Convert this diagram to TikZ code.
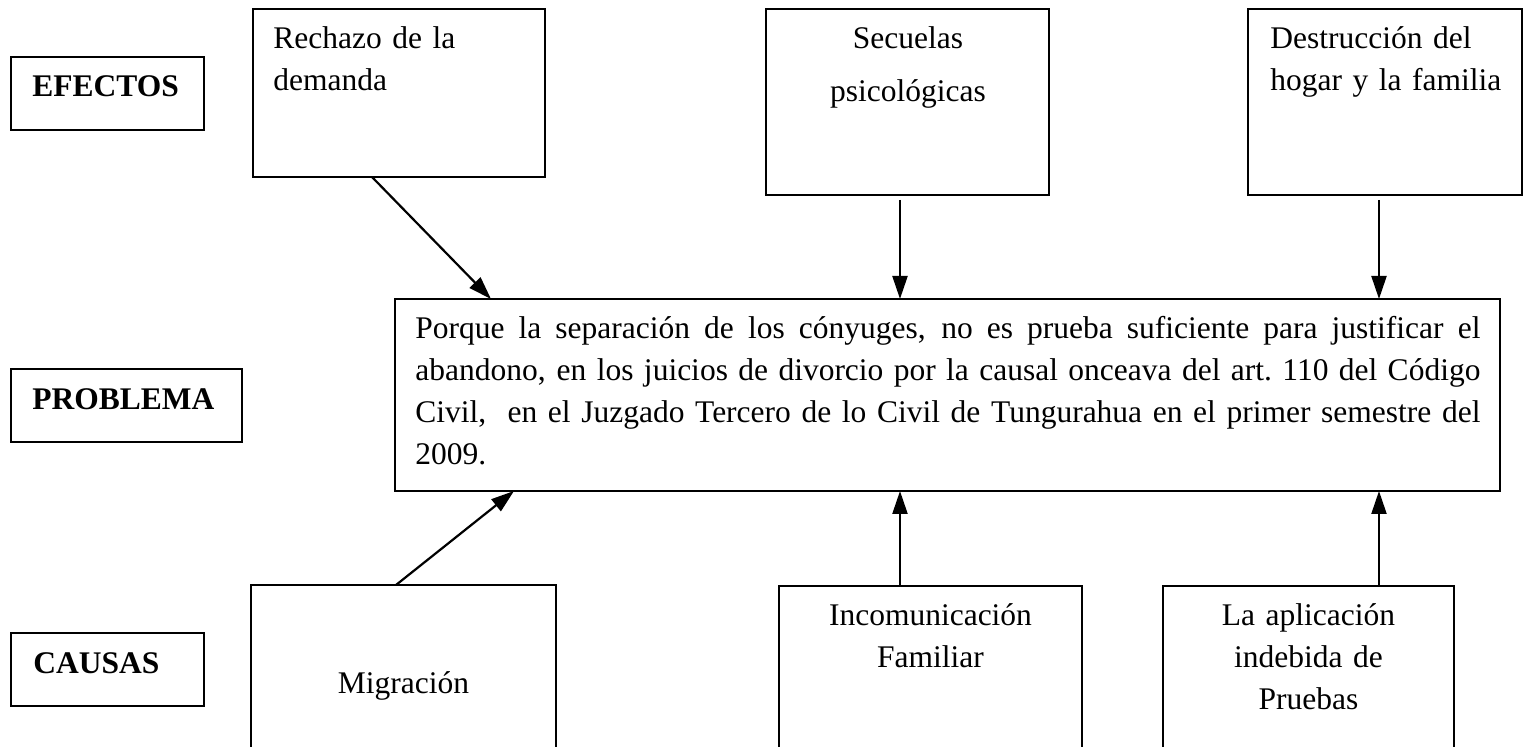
\documentclass[tikz,border=0pt]{standalone}
\usepackage{fontspec}
\setmainfont{Liberation Serif}
\usetikzlibrary{arrows.meta,fit}
\begin{document}
\begin{tikzpicture}[x=0.5pt,y=-0.5pt,
  box/.style={draw,line width=1pt,inner sep=0pt,outer sep=0pt},
  txt/.style={inner sep=0pt,font=\fontsize{15.75}{21}\selectfont},
  lbl/.style={inner sep=0pt,font=\fontsize{15.75}{21}\selectfont\bfseries},
  arr/.style={line width=1.1pt,-{Triangle[length=11.5pt,width=7.5pt]}}]
\useasboundingbox (0,0) rectangle (1523,747);
\clip (0,0) rectangle (1523,747);
% label boxes
\node[box,fit={(11,57)(204,130)}] (efe) {};
\node[box,fit={(11,369)(242,442)}] (pro) {};
\node[box,fit={(11,633)(204,706)}] (cau) {};
% effects
\node[box,fit={(253,9)(545,177)}] (rech) {};
\node[box,fit={(766,9)(1049,195)}] (sec) {};
\node[box,fit={(1248,9)(1522,195)}] (des) {};
% problem
\node[box,fit={(395,299)(1500,491)}] (prob) {};
% causes
\node[box,fit={(251,585)(556,770)}] (mig) {};
\node[box,fit={(779,586)(1082,770)}] (inc) {};
\node[box,fit={(1163,586)(1454,770)}] (apl) {};
% texts
\node[lbl,anchor=base west] (efeT) at (32,97) {EFECTOS};
\node[lbl,anchor=base west] (proT) at (32,410) {PROBLEMA};
\node[lbl,anchor=base west] (cauT) at (33,674) {CAUSAS};
\node[txt,anchor=base west,text width=140pt,align=left] (rechT) at (273,49) {Rechazo de la\\demanda};
\node[txt,anchor=base,text width=140pt,align=center] (secT) at (908,49) {Secuelas\\[5.5pt]psicológicas};
\node[txt,anchor=base west,text width=132pt,align=left] (desT) at (1270,49) {Destrucción del\\hogar y la familia};
\node[txt,anchor=base west,text width=532.5pt,align=justify] (probT) at (415,339) {%
Porque la separación de los cónyuges, no es prueba suficiente para justificar el\linebreak
abandono, en los juicios de divorcio por la causal onceava del art.\ 110 del Código\linebreak
Civil,\ \ en el Juzgado Tercero de lo Civil de Tungurahua en el primer semestre del\linebreak
2009.};
\node[txt,anchor=base] (migT) at (403.5,694) {Migración};
\node[txt,anchor=base,text width=140pt,align=center] (incT) at (930.5,626) {Incomunicación\\Familiar};
\node[txt,anchor=base,text width=140pt,align=center] (aplT) at (1308.5,626) {La aplicación\\indebida de\\Pruebas};
% connectors
\coordinate (s1) at ([xshift=67pt,yshift=-2.5pt]sec.south west);
\coordinate (d1) at ([xshift=65.5pt,yshift=-2.5pt]des.south west);
\coordinate (i1) at ([xshift=60.5pt]inc.north west);
\coordinate (a1) at ([xshift=108pt]apl.north west);
\draw[arr] ([xshift=59.5pt]rech.south west) -- ([xshift=48pt]prob.north west);
\draw[arr] (s1) -- (s1 |- prob.north);
\draw[arr] (d1) -- (d1 |- prob.north);
\draw[arr] ([xshift=72.5pt]mig.north west) -- ([xshift=59.5pt]prob.south west);
\draw[arr] (i1) -- (i1 |- prob.south);
\draw[arr] (a1) -- (a1 |- prob.south);
\end{tikzpicture}
\end{document}
